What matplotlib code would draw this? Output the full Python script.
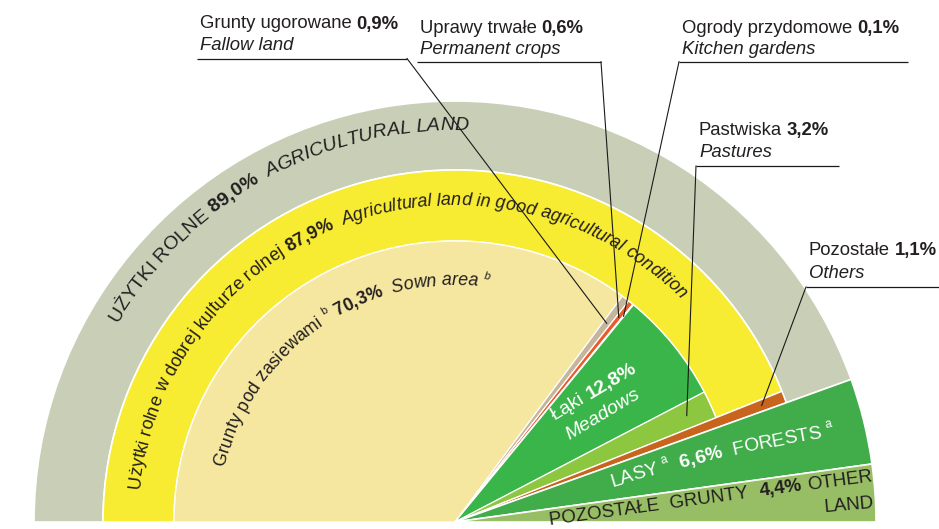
import numpy as np
import matplotlib
matplotlib.use("Agg")
import matplotlib.pyplot as plt
from matplotlib.patches import Wedge
from matplotlib.font_manager import FontProperties, findfont, get_font
try:
    from matplotlib.ft2font import LoadFlags
    NOHINT = LoadFlags.NO_HINTING
except Exception:
    from matplotlib.ft2font import LOAD_NO_HINTING as NOHINT

# ---------------- data ----------------
inner_labels = ["Grunty pod zasiewami", "Grunty ugorowane", "Uprawy trwałe",
                "Ogrody przydomowe", "Łąki", "Pastwiska"]
inner_values = [70.3, 0.9, 0.6, 0.1, 12.8, 3.2]
others_label = "Pozostałe"
others_value = 1.1
outer_labels = ["Lasy", "Pozostałe grunty"]
outer_values = [6.6, 4.4]
good_condition_total = 87.9
agricultural_total = 89.0

# ---------------- style ----------------
FAM = "Liberation Sans"
DARK = "#231f20"
GREY = "#c8cfb6"
YELLOW = "#f8ec32"
inner_colors = ["#f5e6a0", "#c4b59b", "#ea5a2a", "#b8d35a", "#3ab54a", "#8dc63f"]
ORANGE = "#c8641e"
outer_colors = ["#40ad4a", "#97bd65"]

W, H = 939, 529
fig = plt.figure(figsize=(W / 100, H / 100), dpi=100)
ax = fig.add_axes([0, 0, 1, 1])
ax.set_xlim(0, W)
ax.set_ylim(0, H)
ax.axis("off")


def Y(y):
    return H - y


CX, CY = 455, Y(522)
R_OUT, R_MID, R_IN = 421, 352, 281
DEG = 180 / 100.0


def ang(p):
    return 180 - DEG * p


wkw = dict(ec="white", joinstyle="round")
# rings
ax.add_patch(Wedge((CX, CY), R_OUT, ang(agricultural_total), 180,
                   width=R_OUT - R_MID, fc=GREY, lw=1.2, **wkw))
ax.add_patch(Wedge((CX, CY), R_MID, ang(good_condition_total), 180,
                   width=R_MID - R_IN, fc=YELLOW, lw=1.2, **wkw))
# inner wedges
cum = 0.0
mids = {}
for lab, v, c in zip(inner_labels, inner_values, inner_colors):
    ax.add_patch(Wedge((CX, CY), R_IN, ang(cum + v), ang(cum), fc=c, lw=0.9, **wkw))
    mids[lab] = ang(cum + v / 2)
    cum += v
ax.add_patch(Wedge((CX, CY), R_MID, ang(cum + others_value), ang(cum),
                   fc=ORANGE, lw=1.0, **wkw))
mids[others_label] = ang(cum + others_value / 2)
cum += others_value
for lab, v, c in zip(outer_labels, outer_values, outer_colors):
    ax.add_patch(Wedge((CX, CY), R_OUT, ang(cum + v), ang(cum), fc=c, lw=1.2, **wkw))
    cum += v


# ---------------- text helpers ----------------
def fprop(size, weight="normal", style="normal"):
    return FontProperties(family=FAM, size=size, weight=weight, style=style)


def advances(s, fp):
    font = get_font(findfont(fp))
    font.set_size(fp.get_size_in_points(), 72)
    out = []
    for ch in s:
        g = font.load_char(ord(ch), flags=NOHINT)
        out.append(g.linearHoriAdvance / 65536.0 * 100 / 72)
    return out


def run_props(run, size):
    text, weight, style, sc, rise = run
    return fprop(size * sc, weight, style), rise * size * 100 / 72


def total_adv(runs, size):
    t = 0
    for run in runs:
        fp, _ = run_props(run, size)
        t += sum(advances(run[0], fp))
    return t


def arc_text(cx, cy, r, th0, runs, color, size=None, th1=None):
    if size is None:
        span = np.radians(th0 - th1) * r
        size = span / total_adv(runs, 1.0)
    s = 0.0
    t0 = np.radians(th0)
    for run in runs:
        fp, rise = run_props(run, size)
        for ch, a in zip(run[0], advances(run[0], fp)):
            th = t0 - (s + a / 2) / r
            rr = r + rise
            if ch != " ":
                ax.text(cx + rr * np.cos(th), cy + rr * np.sin(th), ch,
                        fontproperties=fp, color=color,
                        rotation=np.degrees(th) - 90, rotation_mode="anchor",
                        ha="center", va="baseline")
            s += a
    return size


def line_text(x, y, angle, runs, color, size, ha="left"):
    tot = total_adv(runs, size)
    a = np.radians(angle)
    ux, uy = np.cos(a), np.sin(a)
    nx, ny = -uy, ux
    s = {"left": 0, "center": -tot / 2, "right": -tot}[ha]
    for run in runs:
        fp, rise = run_props(run, size)
        adv = advances(run[0], fp)
        lead = len(run[0]) - len(run[0].lstrip(" "))
        st = s + sum(adv[:lead])
        txt = run[0].strip(" ")
        if txt:
            ax.text(x + st * ux + rise * nx, y + st * uy + rise * ny, txt,
                    fontproperties=fp, color=color, rotation=angle,
                    rotation_mode="anchor", ha="left", va="baseline")
        s += sum(adv)


def N(t):
    return (t, "normal", "normal", 1.0, 0.0)


def B(t):
    return (t, "bold", "normal", 1.0, 0.0)


def I(t):
    return (t, "normal", "italic", 1.0, 0.0)


def SUP(t, style="normal"):
    return (t, "normal", style, 0.62, 0.45)


# ---------------- ring labels ----------------
arc_text(CX, CY, 392, 149.5,
         [N("UŻYTKI ROLNE "), B("89,0%"), I("  AGRICULTURAL LAND")],
         DARK, th1=88)
arc_text(CX, CY, 317, 174,
         [N("Użytki rolne w dobrej kulturze rolnej "), B("87,9%"),
          I("  Agricultural land in good agricultural condition")],
         DARK, th1=45)
arc_text(CX, CY, 237, 166.5,
         [N("Grunty pod zasiewami "), SUP("b"), N(" "), B("70,3%"),
          I("  Sown area "), SUP("b", "italic")],
         DARK, th1=80)

# meadows
line_text(596, Y(396), 31, [N("Łąki "), B("12,8%")], "white", 14, ha="center")
line_text(605, Y(419), 31, [I("Meadows")], "white", 14, ha="center")

# forests (gently curved)
Rf = 1650.0
thf = np.radians(107)
fcx, fcy = 612 - Rf * np.cos(thf), Y(487) - Rf * np.sin(thf)
arc_text(fcx, fcy, Rf, 107,
         [N("LASY "), SUP("a"), N("  "), B("6,6%"), N("  FORESTS "), SUP("a")],
         "white", size=13.8)

# other land
line_text(873, Y(481), 7.8, [N("POZOSTAŁE  GRUNTY  "), B("4,4%"), N(" OTHER")],
          DARK, 13.5, ha="right")
line_text(874, Y(508), 5, [N("LAND")], DARK, 13.5, ha="right")

# ---------------- callouts ----------------
CS = 13.3
callouts = [
    # x, baseline1, baseline2, line1 text, value, line2, underline y, underline end, leader radius, key, leader side
    (200, 28.5, 50, "Grunty ugorowane ", "0,9%", "Fallow land", 58.5, 407, 250, "Grunty ugorowane", "right"),
    (420, 33, 54.5, "Uprawy trwałe ", "0,6%", "Permanent crops", 61.7, 601, 262, "Uprawy trwałe", "right"),
    (682, 33, 54.5, "Ogrody przydomowe ", "0,1%", "Kitchen gardens", 61.7, 908, 266, "Ogrody przydomowe", "left"),
    (699, 135, 157, "Pastwiska ", "3,2%", "Pastures", 166, 839, 255, "Pastwiska", "left"),
    (809, 255, 278, "Pozostałe ", "1,1%", "Others", 287, 939, 328, "Pozostałe", "left"),
]
for x, b1, b2, t1, val, t2, uy, uend, lr, key, lside in callouts:
    line_text(x, Y(b1), 0, [N(t1), B(val)], DARK, CS)
    line_text(x, Y(b2), 0, [I(t2)], DARK, CS)
    ux0 = x - 3
    ax.plot([ux0, uend], [Y(uy), Y(uy)], color="#1a1a1a", lw=0.9, solid_capstyle="butt")
    th = np.radians(mids[key])
    ex, ey = CX + lr * np.cos(th), CY + lr * np.sin(th)
    sx = uend if lside == "right" else ux0
    ax.plot([sx, ex], [Y(uy), ey], color="#1a1a1a", lw=0.8)

fig.savefig("out.png", dpi=100, facecolor="white")
